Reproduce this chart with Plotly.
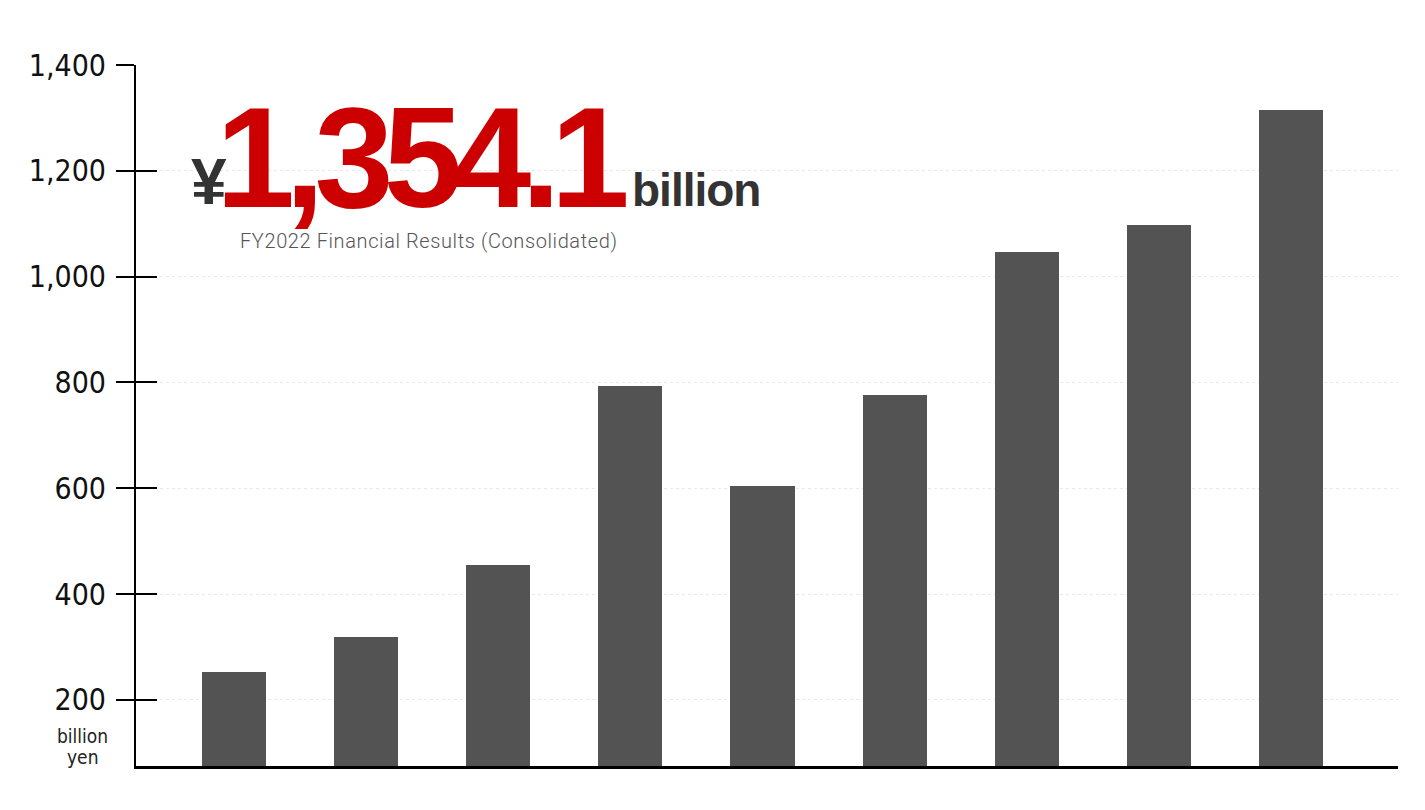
import plotly.graph_objects as go

# ---- data ----
years = ["FY2014", "FY2015", "FY2016", "FY2017", "FY2018", "FY2019", "FY2020", "FY2021", "FY2022"]
sales = [253, 319, 454, 794, 604, 776, 1046, 1097, 1315]
y_ticks = [200, 400, 600, 800, 1000, 1200, 1400]
y_tick_text = ["200", "400", "600", "800", "1,000", "1,200", "1,400"]

headline = "1,354.1"
headline_unit = "billion"
subtitle = "FY2022 Financial Results (Consolidated)"

W, H = 1425, 810
OFF = 8  # page body margin around the plot div
L, R, T, B = 128, 35, 57, 52

def px(x, y):
    # page pixels -> paper coords
    x, y = x - OFF, y - OFF
    return (x - L) / (W - L - R), 1 - (y - T) / (H - T - B)

COND = "DejaVu Sans Condensed, DejaVu Sans, sans-serif"
BOLD = "Liberation Sans, Arial, sans-serif"

fig = go.Figure()
fig.add_trace(go.Bar(x=years, y=sales, marker=dict(color="#535353", line=dict(width=0)),
                     width=0.485, hoverinfo="skip"))
# invisible trace so the overlay axis (inside ticks) is drawn
fig.add_trace(go.Scatter(x=years[:1], y=sales[:1], yaxis="y2", mode="markers",
                         marker=dict(opacity=0), hoverinfo="skip", showlegend=False))

yr = [75, 1400]
fig.update_layout(
    width=W, height=H,
    margin=dict(l=L, r=R, t=T, b=B),
    paper_bgcolor="white", plot_bgcolor="white",
    showlegend=False,
    bargap=0,
    xaxis=dict(type="category", range=[-0.742, 8.81], showticklabels=False, ticks="",
               showgrid=False, zeroline=False, showline=True, linecolor="black", linewidth=2.5),
    yaxis=dict(range=yr, tickvals=y_ticks, ticktext=y_tick_text, ticks="outside", ticklen=18,
               tickwidth=2, tickcolor="black", showline=True, linecolor="black", linewidth=2,
               ticklabelstandoff=4, tickfont=dict(family=COND, size=30, color="#111"),
               showgrid=True, gridcolor="#e9e9e9", griddash="dot", gridwidth=1, zeroline=False),
    yaxis2=dict(range=yr, overlaying="y", side="left", tickvals=y_ticks, ticks="inside",
                ticklen=21, tickwidth=2, tickcolor="black", showticklabels=False,
                showgrid=False, zeroline=False, showline=False),
)

ann = []
x0, y0 = px(82, 736)
ann.append(dict(text="billion", x=x0, y=y0, xanchor="center", yanchor="middle",
                showarrow=False, font=dict(family=COND, size=19, color="#222")))
x0, y0 = px(82, 757)
ann.append(dict(text="yen", x=x0, y=y0, xanchor="center", yanchor="middle",
                showarrow=False, font=dict(family=COND, size=19, color="#222")))
x0, y0 = px(189, 182)
ann.append(dict(text="¥", x=x0, y=y0, xanchor="left", yanchor="middle", showarrow=False,
                font=dict(family=BOLD, size=64, color="#333", weight="bold")))
x0, y0 = px(214, 157)
ann.append(dict(text='<span style="letter-spacing:-10px">' + headline + "</span>",
                x=x0, y=y0, xanchor="left", yanchor="middle", showarrow=False,
                font=dict(family=BOLD, size=142, color="#cc0000", weight="bold")))
x0, y0 = px(630, 190)
ann.append(dict(text='<span style="letter-spacing:-1px">' + headline_unit + "</span>",
                x=x0, y=y0, xanchor="left", yanchor="middle", showarrow=False,
                font=dict(family=BOLD, size=46, color="#333", weight="bold")))
x0, y0 = px(238, 241)
ann.append(dict(text='<span style="letter-spacing:0.6px">' + subtitle + "</span>",
                x=x0, y=y0, xanchor="left", yanchor="middle", showarrow=False,
                font=dict(family="Roboto, sans-serif", size=20, color="#555", weight=300)))
for a in ann:
    a.update(xref="paper", yref="paper")
fig.update_layout(annotations=ann)

fig.write_html("out.html")
